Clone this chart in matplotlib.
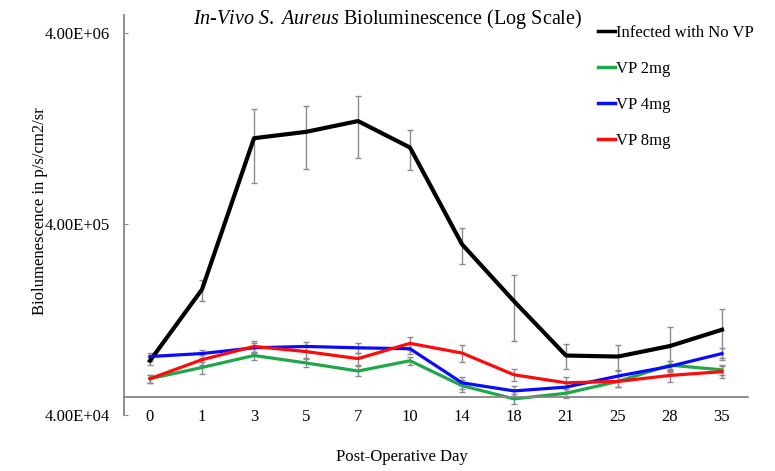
import matplotlib
matplotlib.use("Agg")
import matplotlib.pyplot as plt
from matplotlib.lines import Line2D
from matplotlib.ticker import NullLocator
import numpy as np

plt.rcParams["font.family"] = ["Liberation Serif", "DejaVu Serif"]
plt.rcParams["mathtext.fontset"] = "custom"
plt.rcParams["mathtext.it"] = "Liberation Serif:italic"
plt.rcParams["mathtext.rm"] = "Liberation Serif"

# Data
days = ["0", "1", "3", "5", "7", "10", "14", "18", "21", "25", "28", "35"]

no_vp = [7.7e4, 1.82e5, 1.13e6, 1.22e6, 1.39e6, 1.01e6, 3.14e5, 1.58e5, 8.2e4, 8.1e4, 9.2e4, 1.12e5]
no_vp_err = [4e3, 2.3e4, 4.7e5, 4.4e5, 5e5, 2.4e5, 6.7e4, 6e4, 1.2e4, 1.2e4, 2.4e4, 3.2e4]

vp2 = [6.2e4, 7.1e4, 8.2e4, 7.5e4, 6.8e4, 7.7e4, 5.7e4, 4.86e4, 5.2e4, 6.0e4, 7.3e4, 6.9e4]
vp2_err = [3e3, 5e3, 4e3, 4e3, 4e3, 4e3, 4e3, 3e3, 3e3, 4e3, 4e3, 4e3]

vp4 = [8.1e4, 8.4e4, 9.0e4, 9.15e4, 9.0e4, 8.9e4, 5.9e4, 5.35e4, 5.6e4, 6.4e4, 7.2e4, 8.4e4]
vp4_err = [4e3, 4e3, 5e3, 5e3, 5e3, 5e3, 4e3, 3e3, 3e3, 4e3, 5e3, 6e3]

vp8 = [6.2e4, 7.8e4, 9.15e4, 8.6e4, 7.9e4, 9.5e4, 8.45e4, 6.5e4, 5.9e4, 6.0e4, 6.45e4, 6.75e4]
vp8_err = [3e3, 5e3, 6e3, 6e3, 6e3, 7e3, 9e3, 5e3, 4e3, 4e3, 5e3, 5e3]

series = [
    ("Infected with No VP", no_vp, no_vp_err, "black", 3.0),
    ("VP 2mg", vp2, vp2_err, "#1ea84a", 2.3),
    ("VP 4mg", vp4, vp4_err, "#0a0aff", 2.3),
    ("VP 8mg", vp8, vp8_err, "#ff0a0a", 2.3),
]

fig = plt.figure(figsize=(7.75, 4.71), dpi=100)
ax = fig.add_axes([124 / 775, 1 - 415 / 471, 624 / 775, 400 / 471])

x = np.arange(len(days))
handles = []
for name, vals, err, color, lw in series:
    ax.errorbar(x, vals, yerr=err, color=color, lw=lw,
                ecolor="#8c8c8c", elinewidth=1, capsize=2, capthick=1)
    handles.append(Line2D([], [], color=color, lw=2.5, label=name))

ax.set_yscale("log")
ax.set_ylim(4e4, 5e6)
ax.set_xlim(-0.5, len(days) - 0.5)
ax.yaxis.set_minor_locator(NullLocator())
ax.set_yticks([4e4, 4e5, 4e6])
ax.set_yticklabels(["4.00E+04", "4.00E+05", "4.00E+06"])
ax.set_xticks(x)
ax.set_xticklabels(days)

for s in ["top", "right"]:
    ax.spines[s].set_visible(False)
ax.spines["left"].set_color("#868686")
ax.spines["left"].set_linewidth(1.3)
ax.spines["bottom"].set_position(("data", 5e4))
ax.spines["bottom"].set_color("#868686")
ax.spines["bottom"].set_linewidth(1.3)

ax.tick_params(axis="y", direction="in", length=3, color="#868686", pad=10, labelsize=12)
ax.tick_params(axis="x", length=0, pad=9, labelsize=12)

ax.set_ylabel("Biolumenescence in p/s/cm2/sr", fontsize=12)
ax.yaxis.set_label_coords(-76 / 624, 0.51)
fig.text(402 / 775, 1 - 457 / 471, "Post-Operative Day", ha="center", va="center", fontsize=12)

fig.text(0.5, 1 - 19 / 471, r"$\mathit{In}$-$\mathit{Vivo\ S.\ Aureus}$ Bioluminescence (Log Scale)",
         ha="center", va="center", fontsize=14.5)

fig.legend(handles=handles, loc="upper left", bbox_to_anchor=(598 / 775, 1 - 25 / 471), frameon=False,
           fontsize=12, handlelength=1.0, handletextpad=0.1, labelspacing=1.2,
           borderaxespad=0, borderpad=0)

fig.savefig("out.png", dpi=100)
